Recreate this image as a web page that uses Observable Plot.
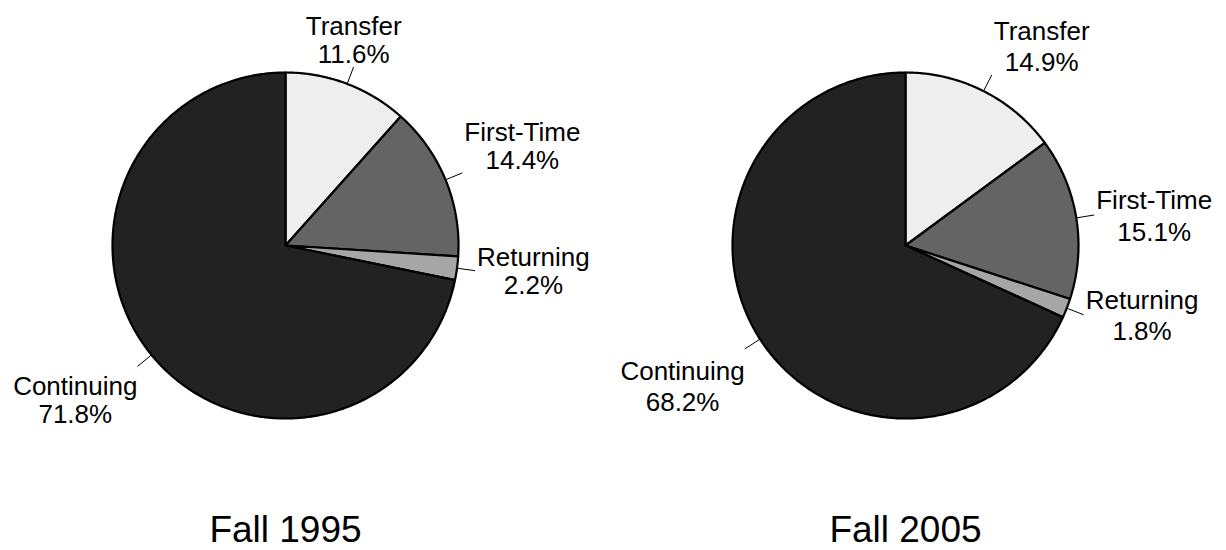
<!DOCTYPE html>
<html>
<head>
<meta charset="utf-8">
<script src="https://cdn.jsdelivr.net/npm/d3@7"></script>
<script src="https://cdn.jsdelivr.net/npm/@observablehq/plot@0.6"></script>
<style>
  html, body { margin: 0; padding: 0; background: #fff; }
  #chart svg { display: block; }
</style>
</head>
<body>
<div id="chart"></div>
<script>
// ---- data ----
const categories = ["Transfer", "First-Time", "Returning", "Continuing"];
const years = ["Fall 1995", "Fall 2005"];
const share1995 = [11.6, 14.4, 2.2, 71.8];
const share2005 = [14.9, 15.1, 1.8, 68.2];
const palette = ["#eeeeee", "#646464", "#a6a6a6", "#222222"];

// ---- layout config ----
const W = 1226, H = 550;
const R = 173;                 // pie radius in px (1 data unit)
const marginRight = 36, marginBottom = 50;
const bandW = 570;             // facet band width
const cy = 245;                // pie centre y in px
const leader = 1.105;          // leader end radius (units)
const FONT = "'Liberation Sans', Arial, sans-serif";
const LABEL_SIZE = 26;
const lineHeights = {"Fall 1995": 1.08, "Fall 2005": 1.2};

const ctx = document.createElement("canvas").getContext("2d");
ctx.font = `${LABEL_SIZE}px ${FONT}`;
const textW = s => Math.max(...s.split("\n").map(l => ctx.measureText(l).width));

const shares = {"Fall 1995": share1995, "Fall 2005": share2005};

// build slice polygons & labels from the data via d3.pie
const polys = [];
const labels = [];
for (const year of years) {
  const vals = shares[year];
  const arcs = d3.pie().sort(null).value(d => d)(vals);
  arcs.forEach((a, i) => {
    const key = year + "|" + categories[i];
    polys.push({year, key, cat: categories[i], x: 0, y: 0});
    const steps = Math.max(2, Math.ceil((a.endAngle - a.startAngle) / (Math.PI / 360)));
    for (let s = 0; s <= steps; s++) {
      const t = a.startAngle + (a.endAngle - a.startAngle) * s / steps;
      polys.push({year, key, cat: categories[i], x: Math.sin(t), y: Math.cos(t)});
    }
    polys.push({year, key, cat: categories[i], x: 0, y: 0});
    const m = (a.startAngle + a.endAngle) / 2;
    const sx = Math.sin(m), cyv = Math.cos(m);
    const h = Math.abs(sx) < 0.4 ? 0 : sx > 0 ? 1 : -1;
    const v = cyv > 0.3 ? "bottom" : cyv < -0.5 ? "top" : "middle";
    const text = categories[i] + "\n" + vals[i].toFixed(1) + "%";
    const w = textW(text);
    const gap = h > 0 ? 2 : 0;
    labels.push({
      year, cat: categories[i], text,
      x1: sx, y1: cyv, x2: sx * leader, y2: cyv * leader,
      tx: sx * leader + h * (w / 2 + gap) / R, ty: cyv * leader, v
    });
  });
}

const xHalf = bandW / 2 / R;
const yTop = cy / R;
const yBot = -(H - marginBottom - cy) / R;

const dyMap = {bottom: -4, middle: 0, top: 9};
const textMarks = [];
for (const year of years) {
  for (const v of ["top", "middle", "bottom"]) {
    const sub = labels.filter(d => d.v === v && d.year === year);
    if (!sub.length) continue;
    textMarks.push(Plot.text(sub, {
      fx: "year", x: "tx", y: "ty", text: "text",
      textAnchor: "middle", lineAnchor: v, dy: dyMap[v],
      fontSize: LABEL_SIZE, lineHeight: lineHeights[year], fill: "#000"
    }));
  }
}

const chart = Plot.plot({
  width: W,
  height: H,
  marginTop: 0,
  marginLeft: 0,
  marginRight: marginRight,
  marginBottom: marginBottom,
  style: {fontFamily: FONT, background: "#fff"},
  fx: {domain: years, paddingInner: 1 - bandW / 620, paddingOuter: 0},
  x: {domain: [-xHalf, xHalf], axis: null},
  y: {domain: [yBot, yTop], axis: null},
  color: {domain: categories, range: palette},
  marks: [
    Plot.line(polys, {fx: "year", x: "x", y: "y", z: "key", fill: "cat",
      stroke: "#000", strokeWidth: 2.2, strokeLinejoin: "round", curve: "linear"}),
    Plot.link(labels, {fx: "year", x1: "x1", y1: "y1", x2: "x2", y2: "y2",
      stroke: "#000", strokeWidth: 1}),
    ...textMarks,
    Plot.axisFx({anchor: "bottom", tickSize: 0, tickPadding: 15, fontSize: 37, label: null})
  ]
});
document.getElementById("chart").appendChild(chart);
</script>
</body>
</html>
